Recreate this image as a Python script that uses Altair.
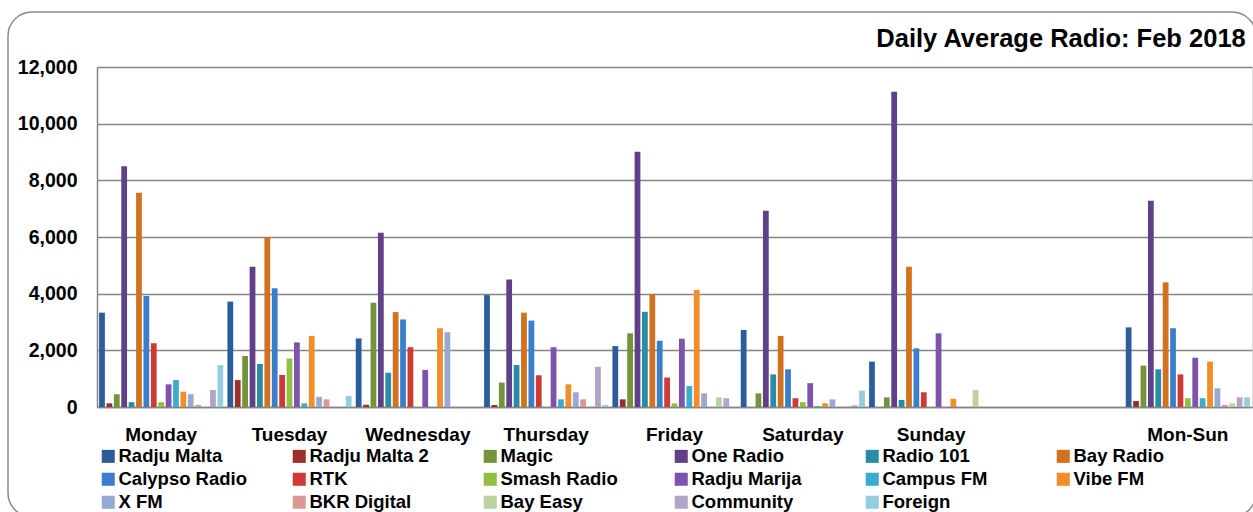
import altair as alt
import pandas as pd

# Categories on the x axis (the blank one keeps the gap before the weekly average)
days = ["Monday", "Tuesday", "Wednesday", "Thursday", "Friday",
        "Saturday", "Sunday", " ", "Mon-Sun"]
day_groups = ["Monday", "Tuesday", "Wednesday", "Thursday", "Friday",
              "Saturday", "Sunday", "Mon-Sun"]

stations = ["Radju Malta", "Radju Malta 2", "Magic", "One Radio", "Radio 101",
            "Bay Radio", "Calypso Radio", "RTK", "Smash Radio", "Radju Marija",
            "Campus FM", "Vibe FM", "X FM", "BKR Digital", "Bay Easy",
            "Community", "Foreign"]

station_colors = ["#2B5C9B", "#9C2E2B", "#74933B", "#5F4089", "#2A8BA5",
                  "#D4711F", "#3B7ECB", "#CD3B37", "#93BF40", "#7E53AE",
                  "#38ADD0", "#F38D29", "#97AAD3", "#D99795", "#BCD29E",
                  "#B3A3C8", "#94CDDD"]

# Daily average listeners per station: Mon, Tue, Wed, Thu, Fri, Sat, Sun, Mon-Sun
radju_malta   = [3330, 3720, 2420, 3950, 2150, 2720, 1600, 2810]
radju_malta_2 = [130, 950, 80, 70, 270, 0, 0, 210]
magic         = [450, 1800, 3680, 860, 2600, 480, 340, 1460]
one_radio     = [8500, 4950, 6150, 4500, 9010, 6930, 11130, 7280]
radio_101     = [170, 1520, 1210, 1480, 3360, 1150, 250, 1330]
bay_radio     = [7560, 6000, 3350, 3330, 3980, 2510, 4950, 4400]
calypso_radio = [3920, 4190, 3090, 3050, 2340, 1330, 2070, 2780]
rtk           = [2250, 1130, 2110, 1120, 1040, 310, 520, 1150]
smash_radio   = [170, 1710, 0, 0, 130, 170, 0, 310]
radju_marija  = [800, 2280, 1310, 2110, 2410, 840, 2600, 1740]
campus_fm     = [950, 130, 0, 270, 740, 30, 0, 310]
vibe_fm       = [540, 2510, 2780, 800, 4130, 130, 290, 1600]
x_fm          = [450, 360, 2640, 520, 480, 270, 0, 660]
bkr_digital   = [70, 270, 0, 270, 0, 0, 0, 70]
bay_easy      = [0, 0, 0, 0, 340, 30, 600, 130]
community     = [600, 0, 0, 1420, 310, 60, 0, 340]
foreign       = [1480, 390, 0, 70, 0, 580, 0, 340]

series = [radju_malta, radju_malta_2, magic, one_radio, radio_101, bay_radio,
          calypso_radio, rtk, smash_radio, radju_marija, campus_fm, vibe_fm,
          x_fm, bkr_digital, bay_easy, community, foreign]

rows = []
for name, values in zip(stations, series):
    for day, v in zip(day_groups, values):
        rows.append({"day": day, "station": name, "value": v})
df = pd.DataFrame(rows)

FONT = "Liberation Sans"
GRID = "#858585"

bars = alt.Chart(df).mark_bar().encode(
    x=alt.X("day:N", sort=days, title=None,
            scale=alt.Scale(domain=days, paddingInner=0.02, paddingOuter=0.01),
            axis=alt.Axis(labelAngle=0, tickSize=0, labelPadding=18,
                          labelFontSize=19, labelFontWeight="bold",
                          labelFont=FONT, labelColor="black",
                          domainColor=GRID, domainWidth=1.5, grid=False)),
    xOffset=alt.XOffset("station:N", sort=stations,
                        scale=alt.Scale(domain=stations, paddingInner=0.22,
                                        paddingOuter=0.11)),
    y=alt.Y("value:Q", title=None,
            scale=alt.Scale(domain=[0, 12000], nice=False),
            axis=alt.Axis(values=[0, 2000, 4000, 6000, 8000, 10000, 12000],
                          format=",.0f", tickSize=0, labelPadding=20,
                          labelFontSize=19.5, labelFontWeight="bold",
                          labelFont=FONT, labelColor="black",
                          domainColor=GRID, domainWidth=1.5,
                          gridColor=GRID, gridWidth=1.5)),
    color=alt.Color("station:N", sort=stations,
                    scale=alt.Scale(domain=stations, range=station_colors),
                    legend=alt.Legend(title=None, orient="none",
                                      legendX=2, legendY=380,
                                      direction="horizontal", columns=6,
                                      gridAlign="all", columnPadding=43,
                                      rowPadding=4, symbolType="square",
                                      symbolSize=170, symbolStrokeWidth=0,
                                      labelOffset=1, labelFontSize=18.5,
                                      labelFontWeight="bold", labelFont=FONT,
                                      labelColor="black", labelLimit=300)),
)

# Rounded outer frame of the chart
frame = alt.Chart(pd.DataFrame({"k": [0]})).mark_rect(
    fill="transparent", stroke="#8a8a8a", strokeWidth=1.5, cornerRadius=24
).encode(x=alt.value(-89), x2=alt.value(1159), y=alt.value(-55), y2=alt.value(450))

chart = alt.layer(frame, bars).properties(
    width=1155, height=340,
    autosize=alt.AutoSizeParams(type="none"),
    padding={"left": 97, "top": 67, "right": 1, "bottom": 105},
    title=alt.TitleParams("Daily Average Radio: Feb 2018", anchor="end",
                          fontSize=25.5, fontWeight="bold", font=FONT,
                          color="black", dx=-11, dy=51, offset=10),
).configure_view(stroke=None).configure(background="white")

chart.save("out.html", embed_options={"renderer": "svg", "actions": False})
